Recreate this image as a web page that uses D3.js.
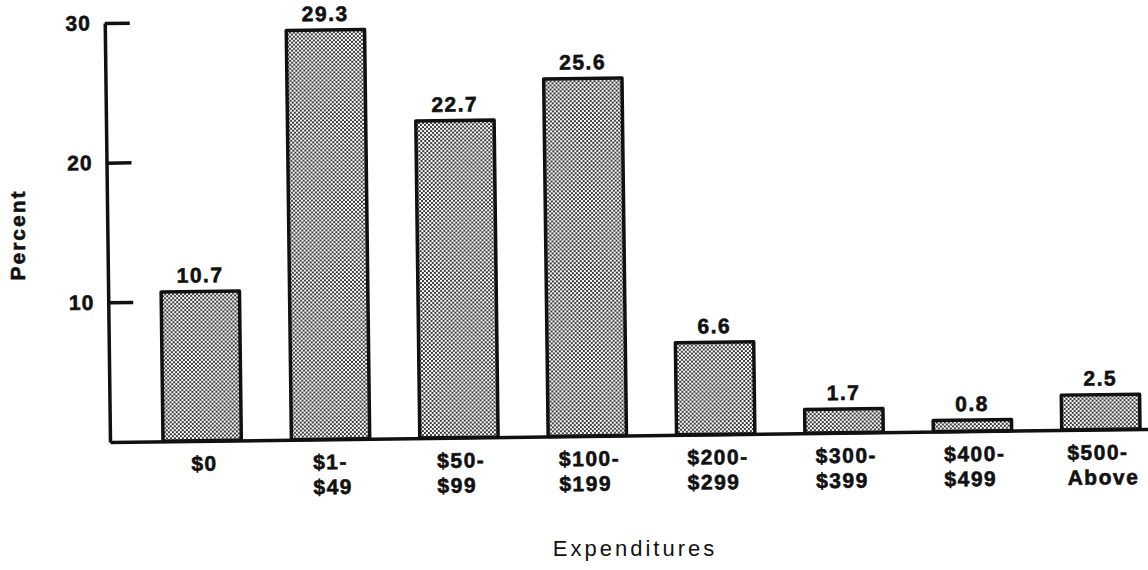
<!DOCTYPE html>
<html>
<head>
<meta charset="utf-8">
<script src="https://cdn.jsdelivr.net/npm/d3@7"></script>
<style>
  html, body { margin: 0; padding: 0; background: #fff; }
  svg { display: block; }
  .bold { font-family: "Liberation Sans", Arial, Helvetica, sans-serif; font-weight: bold; fill: #111; stroke: #111; stroke-width: 0.6px; }
  .reg { font-family: "Liberation Sans", Arial, Helvetica, sans-serif; font-weight: normal; fill: #111; }
</style>
</head>
<body>
<script>
// Share of respondents by amount spent
const categories = ["$0", "$1-\n$49", "$50-\n$99", "$100-\n$199", "$200-\n$299", "$300-\n$399", "$400-\n$499", "$500-\nAbove"];
const values = [10.7, 29.3, 22.7, 25.6, 6.6, 1.7, 0.8, 2.5];
const valueLabels = ["10.7", "29.3", "22.7", "25.6", "6.6", "1.7", "0.8", "2.5"];
const yTicks = [10, 20, 30];
const yLabel = "Percent";
const xLabel = "Expenditures";

const W = 1148, H = 570;
const originX = 110, originY = 442;

const svg = d3.select("body").append("svg")
  .attr("width", W).attr("height", H);

// stippled fill for the bars
const defs = svg.append("defs");
const pat = defs.append("pattern")
  .attr("id", "stipple")
  .attr("patternUnits", "userSpaceOnUse")
  .attr("width", 4).attr("height", 4);
pat.append("rect").attr("width", 4).attr("height", 4).attr("fill", "#fff");
pat.append("circle").attr("cx", 1).attr("cy", 1).attr("r", 1.1).attr("fill", "#222");
pat.append("circle").attr("cx", 3).attr("cy", 3).attr("r", 1.1).attr("fill", "#222");

const x = d3.scaleBand()
  .domain(categories)
  .range([originX, 1160])
  .paddingInner(0.39)
  .paddingOuter(0.284)
  .align(0.727);

const y = d3.scaleLinear()
  .domain([0, 30])
  .range([originY, 23]);

// the plot sits at a slight tilt
const g = svg.append("g")
  .attr("transform", `rotate(-0.72, ${originX}, ${originY})`);

// bars
g.selectAll("rect.bar")
  .data(values)
  .join("rect")
  .attr("class", "bar")
  .attr("x", (d, i) => x(categories[i]))
  .attr("y", d => y(d))
  .attr("width", x.bandwidth())
  .attr("height", d => y(0) - y(d))
  .attr("fill", "url(#stipple)")
  .attr("stroke", "#111")
  .attr("stroke-width", 3.5)
  .attr("stroke-linejoin", "round");

// value labels
g.selectAll("text.val")
  .data(values)
  .join("text")
  .attr("class", "val bold")
  .attr("x", (d, i) => x(categories[i]) + x.bandwidth() / 2)
  .attr("y", d => y(d) - 9)
  .attr("text-anchor", "middle")
  .attr("font-size", 21)
  .attr("letter-spacing", 1.5)
  .text((d, i) => valueLabels[i]);

// y axis with inward ticks
const yAxis = d3.axisLeft(y)
  .tickValues(yTicks)
  .tickSizeInner(-25)
  .tickSizeOuter(0)
  .tickPadding(14)
  .tickFormat(d3.format("d"));

const ya = g.append("g")
  .attr("transform", `translate(${originX},0)`)
  .call(yAxis);
ya.select(".domain").attr("stroke", "#111").attr("stroke-width", 3.5);
ya.selectAll(".tick line").attr("stroke", "#111").attr("stroke-width", 3.5);
ya.selectAll(".tick text")
  .attr("class", "bold")
  .attr("font-size", 21)
  .attr("letter-spacing", 1)
  .attr("font-family", null);

// x axis baseline and two-line category labels
const xAxis = d3.axisBottom(x).tickSize(0).tickPadding(0);
const xa = g.append("g")
  .attr("transform", `translate(0,${originY})`)
  .call(xAxis);
xa.select(".domain").attr("stroke", "#111").attr("stroke-width", 3.5);
xa.selectAll(".tick text").each(function (d) {
  const t = d3.select(this);
  t.text(null)
    .attr("class", "bold")
    .attr("font-family", null)
    .attr("font-size", 21)
    .attr("letter-spacing", 1.5)
    .attr("text-anchor", "start")
    .attr("y", 0)
    .attr("dy", null);
  const lines = d.split("\n");
  const spans = lines.map((ln, k) =>
    t.append("tspan").attr("x", 0).attr("y", 30 + k * 25).text(ln));
  const w = d3.max(spans, s => s.node().getComputedTextLength());
  spans.forEach(s => s.attr("x", -w / 2 + 2));
});

// axis titles
svg.append("text")
  .attr("class", "bold")
  .attr("transform", "translate(25,235) rotate(-90)")
  .attr("text-anchor", "middle")
  .attr("font-size", 21)
  .attr("letter-spacing", 2)
  .text(yLabel);

svg.append("text")
  .attr("class", "reg")
  .attr("x", 635)
  .attr("y", 556)
  .attr("text-anchor", "middle")
  .attr("font-size", 22)
  .attr("letter-spacing", 3)
  .text(xLabel);
</script>
</body>
</html>
